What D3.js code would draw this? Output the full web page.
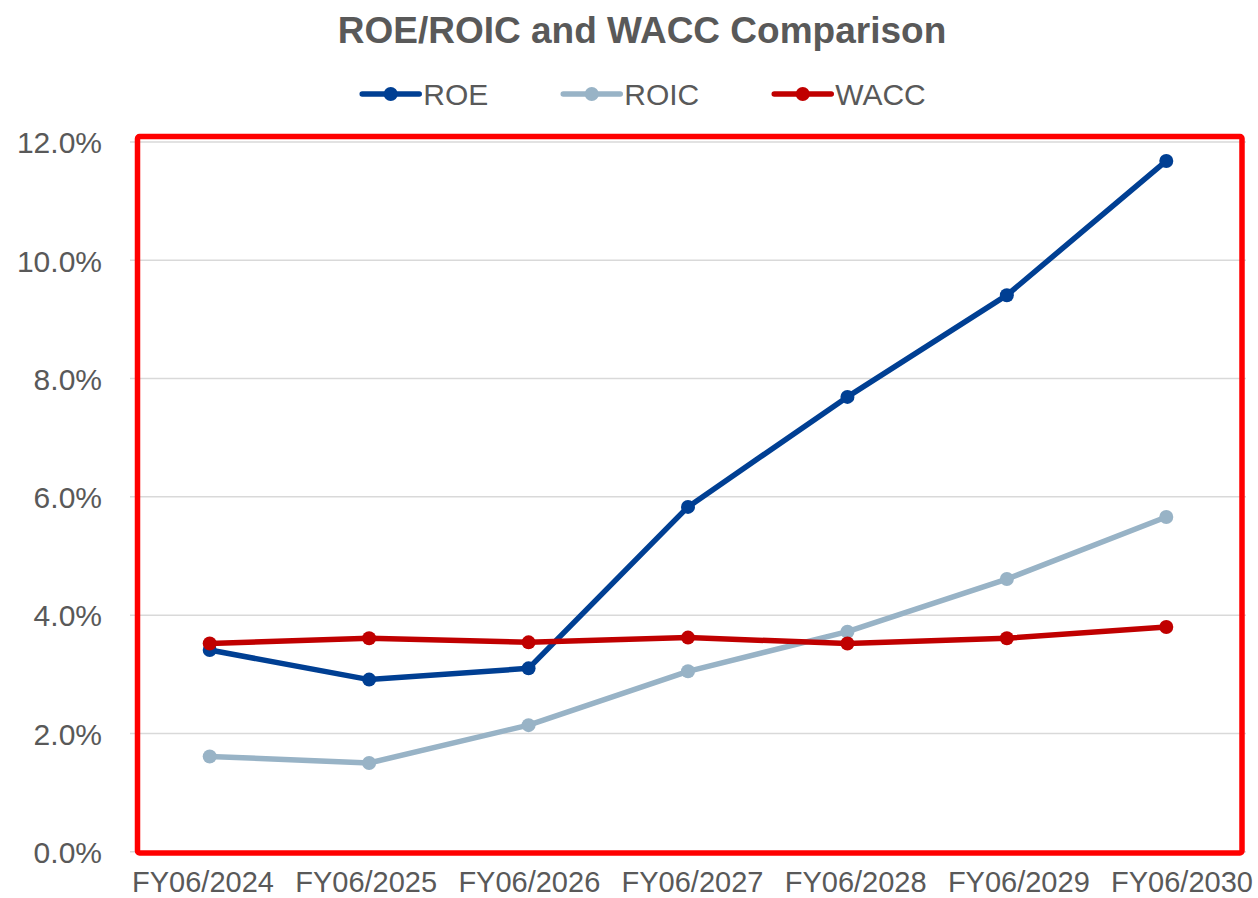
<!DOCTYPE html>
<html>
<head>
<meta charset="utf-8">
<script src="https://cdn.jsdelivr.net/npm/d3@7"></script>
<style>
  body { margin: 0; background: #fff; }
  text { font-family: "Liberation Sans", Arial, sans-serif; fill: #595959; }
</style>
</head>
<body>
<div id="chart"></div>
<script>
// chart data
const years = ["FY06/2024", "FY06/2025", "FY06/2026", "FY06/2027", "FY06/2028", "FY06/2029", "FY06/2030"];
const roe  = [3.41, 2.91, 3.10, 5.83, 7.69, 9.41, 11.68];
const roic = [1.61, 1.50, 2.14, 3.05, 3.72, 4.61, 5.66];
const wacc = [3.52, 3.61, 3.54, 3.62, 3.52, 3.61, 3.80];
const yTicks = [0, 2, 4, 6, 8, 10, 12];

const width = 1258, height = 898;
const plot = {left: 130, right: 1246, top: 142, bottom: 851.7};

const series = [
  {name: "ROE",  values: roe,  color: "#003f93"},
  {name: "ROIC", values: roic, color: "#98b3c6"},
  {name: "WACC", values: wacc, color: "#c00000"}
];

const svg = d3.select("#chart").append("svg")
  .attr("width", width)
  .attr("height", height);

const x = d3.scalePoint()
  .domain(years)
  .range([plot.left, plot.right])
  .padding(0.5);

// category labels sit a bit wider than the points in the original
const xLabel = d3.scalePoint()
  .domain(years)
  .range([203, 1182]);

const y = d3.scaleLinear()
  .domain([0, 12])
  .range([plot.bottom, plot.top]);

// title
svg.append("text")
  .attr("x", 642)
  .attr("y", 43)
  .attr("text-anchor", "middle")
  .style("font-size", "37px")
  .style("font-weight", "bold")
  .text("ROE/ROIC and WACC Comparison");

// gridlines
svg.append("g")
  .selectAll("line")
  .data(yTicks)
  .join("line")
    .attr("x1", plot.left)
    .attr("x2", plot.right)
    .attr("y1", d => y(d))
    .attr("y2", d => y(d))
    .attr("stroke", "#d9d9d9")
    .attr("stroke-width", 1.5);

// y axis labels
const yAxis = svg.append("g")
  .attr("transform", `translate(${plot.left - 28},0)`)
  .call(d3.axisLeft(y).tickValues(yTicks).tickSize(0).tickPadding(0)
    .tickFormat(d => d.toFixed(1) + "%"));
yAxis.select(".domain").remove();
yAxis.selectAll("text")
  .style("font-size", "30px")
  .style("font-family", "'Liberation Sans', Arial, sans-serif")
  .attr("fill", "#595959")
  .attr("dy", "0.36em");

// x axis labels
svg.append("g")
  .selectAll("text")
  .data(years)
  .join("text")
    .attr("x", d => xLabel(d))
    .attr("y", 892)
    .attr("text-anchor", "middle")
    .style("font-size", "29px")
    .text(d => d);

// red highlight box
svg.append("rect")
  .attr("x", 137.5)
  .attr("y", 136.5)
  .attr("width", 1242 - 137.5)
  .attr("height", 853 - 136.5)
  .attr("rx", 2)
  .attr("fill", "none")
  .attr("stroke", "#ff0000")
  .attr("stroke-width", 5.5);

const line = d3.line()
  .x((d, i) => x(years[i]))
  .y(d => y(d));

series.forEach(s => {
  const g = svg.append("g");
  g.append("path")
    .datum(s.values)
    .attr("fill", "none")
    .attr("stroke", s.color)
    .attr("stroke-width", 5.5)
    .attr("stroke-linejoin", "round")
    .attr("d", line);
  g.selectAll("circle")
    .data(s.values)
    .join("circle")
      .attr("cx", (d, i) => x(years[i]))
      .attr("cy", d => y(d))
      .attr("r", 7)
      .attr("fill", s.color);
});

// legend
const legend = svg.append("g");
const lineLen = 57, gap = 4, spacing = 75;
let items = series.map(s => {
  const g = legend.append("g");
  g.append("line")
    .attr("x1", 0).attr("x2", lineLen)
    .attr("y1", 94).attr("y2", 94)
    .attr("stroke", s.color)
    .attr("stroke-width", 5.5)
    .attr("stroke-linecap", "round");
  g.append("circle")
    .attr("cx", lineLen / 2).attr("cy", 94).attr("r", 7)
    .attr("fill", s.color);
  const t = g.append("text")
    .attr("x", lineLen + gap)
    .attr("y", 104.5)
    .style("font-size", "30px")
    .text(s.name);
  return {g: g, w: lineLen + gap + t.node().getComputedTextLength()};
});
const total = d3.sum(items, d => d.w) + spacing * (items.length - 1);
let cx = 644 - total / 2;
items.forEach(it => {
  it.g.attr("transform", `translate(${cx},0)`);
  cx += it.w + spacing;
});
</script>
</body>
</html>
